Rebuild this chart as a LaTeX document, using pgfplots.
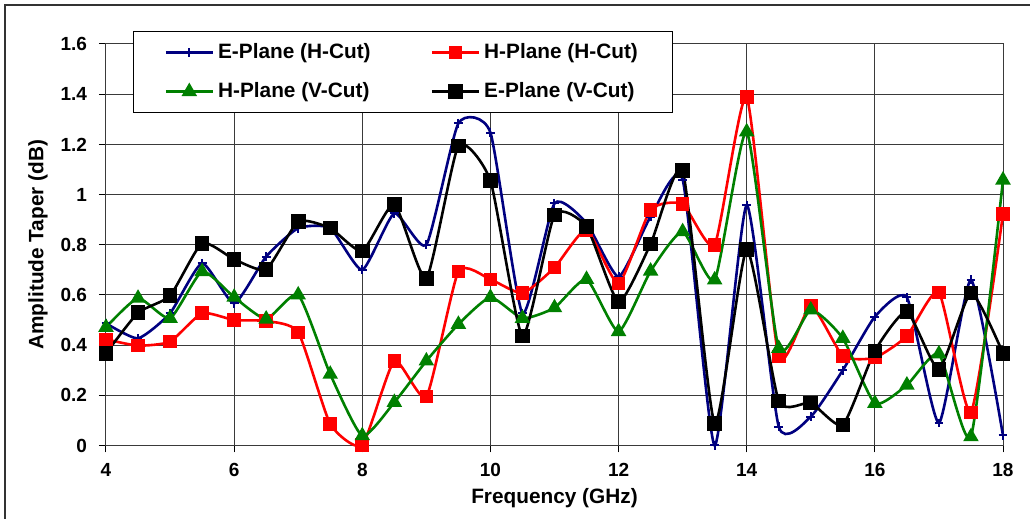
\documentclass[border=0pt]{standalone}
\usepackage{fontspec}
\setmainfont{Liberation Sans}
\usepackage{pgfplots}
\pgfplotsset{compat=1.18}
\definecolor{EBLUE}{HTML}{000080}
\definecolor{HRED}{HTML}{FF0000}
\definecolor{HGREEN}{HTML}{008000}
\definecolor{GRIDC}{HTML}{3A3A3A}

% columns: frequency (GHz), E-Plane (H-Cut), H-Plane (H-Cut), H-Plane (V-Cut), E-Plane (V-Cut)
\pgfplotstableread{
f    eh     hh     hv     ev
4.0  0.487  0.423  0.471  0.367
4.5  0.427  0.398  0.587  0.529
5.0  0.527  0.414  0.507  0.597
5.5  0.726  0.527  0.693  0.806
6.0  0.567  0.500  0.591  0.742
6.5  0.753  0.496  0.504  0.702
7.0  0.866  0.451  0.600  0.892
7.5  0.866  0.086  0.284  0.866
8.0  0.700  0.002  0.039  0.775
8.5  0.925  0.337  0.172  0.961
9.0  0.800  0.195  0.337  0.666
9.5  1.284  0.693  0.483  1.194
10.0 1.247  0.662  0.590  1.055
10.5 0.527  0.607  0.507  0.436
11.0 0.965  0.709  0.549  0.919
11.5 0.886  0.859  0.662  0.872
12.0 0.673  0.646  0.454  0.573
12.5 0.912  0.939  0.695  0.803
13.0 1.060  0.962  0.852  1.095
13.5 0.000  0.800  0.660  0.088
14.0 0.958  1.388  1.250  0.780
14.5 0.075  0.354  0.387  0.178
15.0 0.115  0.556  0.540  0.170
15.5 0.300  0.357  0.427  0.082
16.0 0.513  0.350  0.168  0.377
16.5 0.590  0.436  0.241  0.533
17.0 0.090  0.610  0.365  0.304
17.5 0.660  0.132  0.035  0.607
18.0 0.040  0.923  1.058  0.367
}\taper

\begin{document}
\begin{tikzpicture}[font=\fontsize{10.4}{12}\selectfont\bfseries]
\useasboundingbox (-53pt,-36.75pt) rectangle (462pt,222.75pt);
\begin{axis}[
  scale only axis,
  width=448.5pt, height=200.75pt,
  xmin=4, xmax=18, ymin=0, ymax=1.6,
  xtick={4,6,8,10,12,14,16,18},
  ytick={0,0.2,0.4,0.6,0.8,1,1.2,1.4,1.6},
  grid=major,
  grid style={GRIDC, line width=0.5pt},
  axis line style={GRIDC, line width=0.5pt},
  tick align=outside, major tick length=3.5pt,
  tick style={black, line width=0.5pt},
  xtick pos=bottom, ytick pos=left,
  /pgf/number format/assume math mode=true,
  tick label style={font=\fontsize{9.5}{11}\selectfont\bfseries},
  yticklabel style={xshift=-2.5pt},
  xticklabel style={yshift=-2pt},
  xlabel={Frequency (GHz)},
  ylabel={Amplitude Taper (dB)},
  xlabel style={at={(axis description cs:0.5,-0.131)}, anchor=center},
  ylabel style={at={(axis description cs:-0.0758,0.5)}, anchor=center},
  clip=false,
  legend columns=2,
  legend cell align=left,
  legend image code/.code={
    \draw[mark repeat=2,mark phase=2] plot coordinates {(0pt,0pt) (11.75pt,0pt) (23.5pt,0pt)};
  },
  legend style={
    at={(axis description cs:0.0301,1.0324)}, anchor=north west,
    draw=black, line width=0.5pt, fill=white,
    font=\fontsize{10.4}{12}\selectfont\bfseries,
    inner xsep=15.5pt, inner ysep=4pt,
    /tikz/every even column/.append style={column sep=28pt},
    row sep=6.5pt,
  },
  every axis plot/.append style={line width=1.3pt},
]
\addplot[EBLUE, smooth, tension=0.33, mark=+, mark size=2.2pt, mark options={line width=1pt}] table[x=f, y=eh] {\taper};
\addlegendentry{E-Plane (H-Cut)}
\addplot[HRED, smooth, tension=0.33, mark=square*, mark size=2.75pt, mark options={fill=HRED}] table[x=f, y=hh] {\taper};
\addlegendentry{H-Plane (H-Cut)}
\addplot[HGREEN, smooth, tension=0.33, mark=triangle*, mark size=3.2pt, mark options={fill=HGREEN}] table[x=f, y=hv] {\taper};
\addlegendentry{H-Plane (V-Cut)}
\addplot[black, smooth, tension=0.33, mark=square*, mark size=3pt, mark options={fill=black}] table[x=f, y=ev] {\taper};
\addlegendentry{E-Plane (V-Cut)}
\end{axis}
\draw[black!80, line width=0.8pt] (-50.5pt,-40pt) rectangle (470pt,220.25pt);
\end{tikzpicture}
\end{document}
